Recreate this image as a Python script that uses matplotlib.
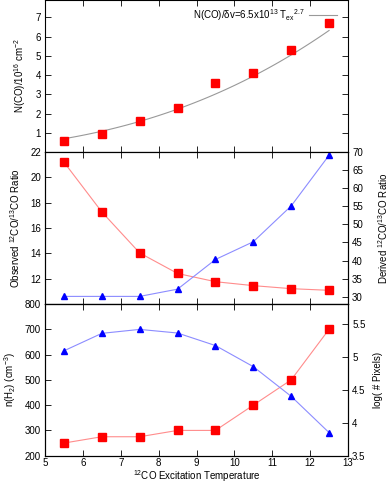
import numpy as np
import matplotlib
matplotlib.use('Agg')
import matplotlib.pyplot as plt

plt.rcParams['font.family'] = ['Liberation Sans', 'DejaVu Sans']
plt.rcParams['font.size'] = 7
plt.rcParams['mathtext.fontset'] = 'custom'
plt.rcParams['mathtext.rm'] = 'Liberation Sans'
plt.rcParams['mathtext.it'] = 'Liberation Sans'

# excitation temperature bins
tex = [5.5, 6.5, 7.5, 8.5, 9.5, 10.5, 11.5, 12.5]

# top panel: column density / 1e16
n_co = [0.55, 0.95, 1.6, 2.3, 3.6, 4.1, 5.3, 6.7]
fit_coef = 0.0069   # in units of 1e16
fit_exp = 2.7

# middle panel
obs_ratio = [21.2, 17.27, 14.03, 12.41, 11.76, 11.45, 11.21, 11.08]
der_ratio = [30.1, 30.1, 30.1, 32.1, 40.3, 45.2, 55.1, 69.1]

# bottom panel
n_h2 = [250, 275, 275, 300, 300, 400, 500, 700]
log_npix = [5.09, 5.355, 5.415, 5.36, 5.17, 4.85, 4.40, 3.85]

red_line = '#ff8c8c'
blue_line = '#8c8cff'

fig = plt.figure(figsize=(3.9, 4.84), dpi=100)
L, W = 45/390, 303/390
ax1 = fig.add_axes([L, 1-152/484, W, 152/484])
ax2 = fig.add_axes([L, 1-304/484, W, 152/484])
ax3 = fig.add_axes([L, 1-455.7/484, W, 151.7/484])

def style(ax):
    ax.tick_params(direction='in', length=4, width=0.6, top=True, pad=3)
    for s in ax.spines.values():
        s.set_linewidth(0.8)
    ax.set_xlim(5, 13)
    ax.set_xticks(range(5, 14))

# top
tt = np.linspace(tex[0], tex[-1], 60)
ax1.plot(tt, fit_coef*tt**fit_exp, color='#999999', lw=0.8,
         label=r'N(CO)/$\delta$v=6.5x10$^{13}$ T$_{\rm ex}$$^{2.7}$')
ax1.plot(tex, n_co, 's', color='red', ms=5.5, mec='red')
style(ax1)
ax1.tick_params(right=True)
ax1.set_ylim(0, 7.9)
ax1.set_yticks(range(1, 8))
ax1.set_xticklabels([])
ax1.set_ylabel(r'N(CO)/10$^{16}$ cm$^{-2}$', va='center')
ax1.yaxis.set_label_coords(-0.083, 0.5)
ax1.legend(loc='upper right', frameon=False, markerfirst=False,
           handlelength=2.8, handletextpad=0.5, fontsize=7,
           borderaxespad=0.3, bbox_to_anchor=(0.985, 1.0))

# middle
ax2.plot(tex, obs_ratio, '-', color=red_line, lw=0.8)
ax2.plot(tex, obs_ratio, 's', color='red', ms=5.5)
style(ax2)
ax2.set_ylim(10, 22)
ax2.set_yticks(range(12, 23, 2))
ax2.set_xticklabels([])
ax2.set_ylabel(r'Observed $^{12}$CO/$^{13}$CO Ratio', va='center')
ax2.yaxis.set_label_coords(-0.099, 0.5)
ax2r = ax2.twinx()
ax2r.plot(tex, der_ratio, '-', color=blue_line, lw=0.8)
ax2r.plot(tex, der_ratio, '^', color='blue', ms=4.5)
ax2r.set_ylim(28, 70)
ax2r.set_yticks(range(30, 71, 5))
ax2r.tick_params(direction='in', length=4, width=0.6, pad=3)
ax2r.set_ylabel(r'Derived $^{12}$CO/$^{13}$CO Ratio', va='center')
ax2r.yaxis.set_label_coords(1.115, 0.5)

# bottom
ax3.plot(tex, n_h2, '-', color=red_line, lw=0.8)
ax3.plot(tex, n_h2, 's', color='red', ms=5.5)
style(ax3)
ax3.tick_params(axis='x', pad=2)
ax3.set_ylim(200, 800)
ax3.set_yticks(range(200, 801, 100))
ax3.set_xlabel(r'$^{12}$CO Excitation Temperature', va='center')
ax3.xaxis.set_label_coords(0.5, -0.132)
ax3.set_ylabel(r'n(H$_2$) (cm$^{-3}$)', va='center')
ax3.yaxis.set_label_coords(-0.115, 0.5)
ax3r = ax3.twinx()
ax3r.plot(tex, log_npix, '-', color=blue_line, lw=0.8)
ax3r.plot(tex, log_npix, '^', color='blue', ms=4.5)
ax3r.set_ylim(3.5, 5.8)
ax3r.set_yticks([3.5, 4, 4.5, 5, 5.5])
ax3r.set_yticklabels(['3.5', '4', '4.5', '5', '5.5'])
ax3r.tick_params(direction='in', length=4, width=0.6, pad=3)
ax3r.set_ylabel('log( # Pixels)', va='center')
ax3r.yaxis.set_label_coords(1.10, 0.5)

fig.savefig('out.png', dpi=100)
